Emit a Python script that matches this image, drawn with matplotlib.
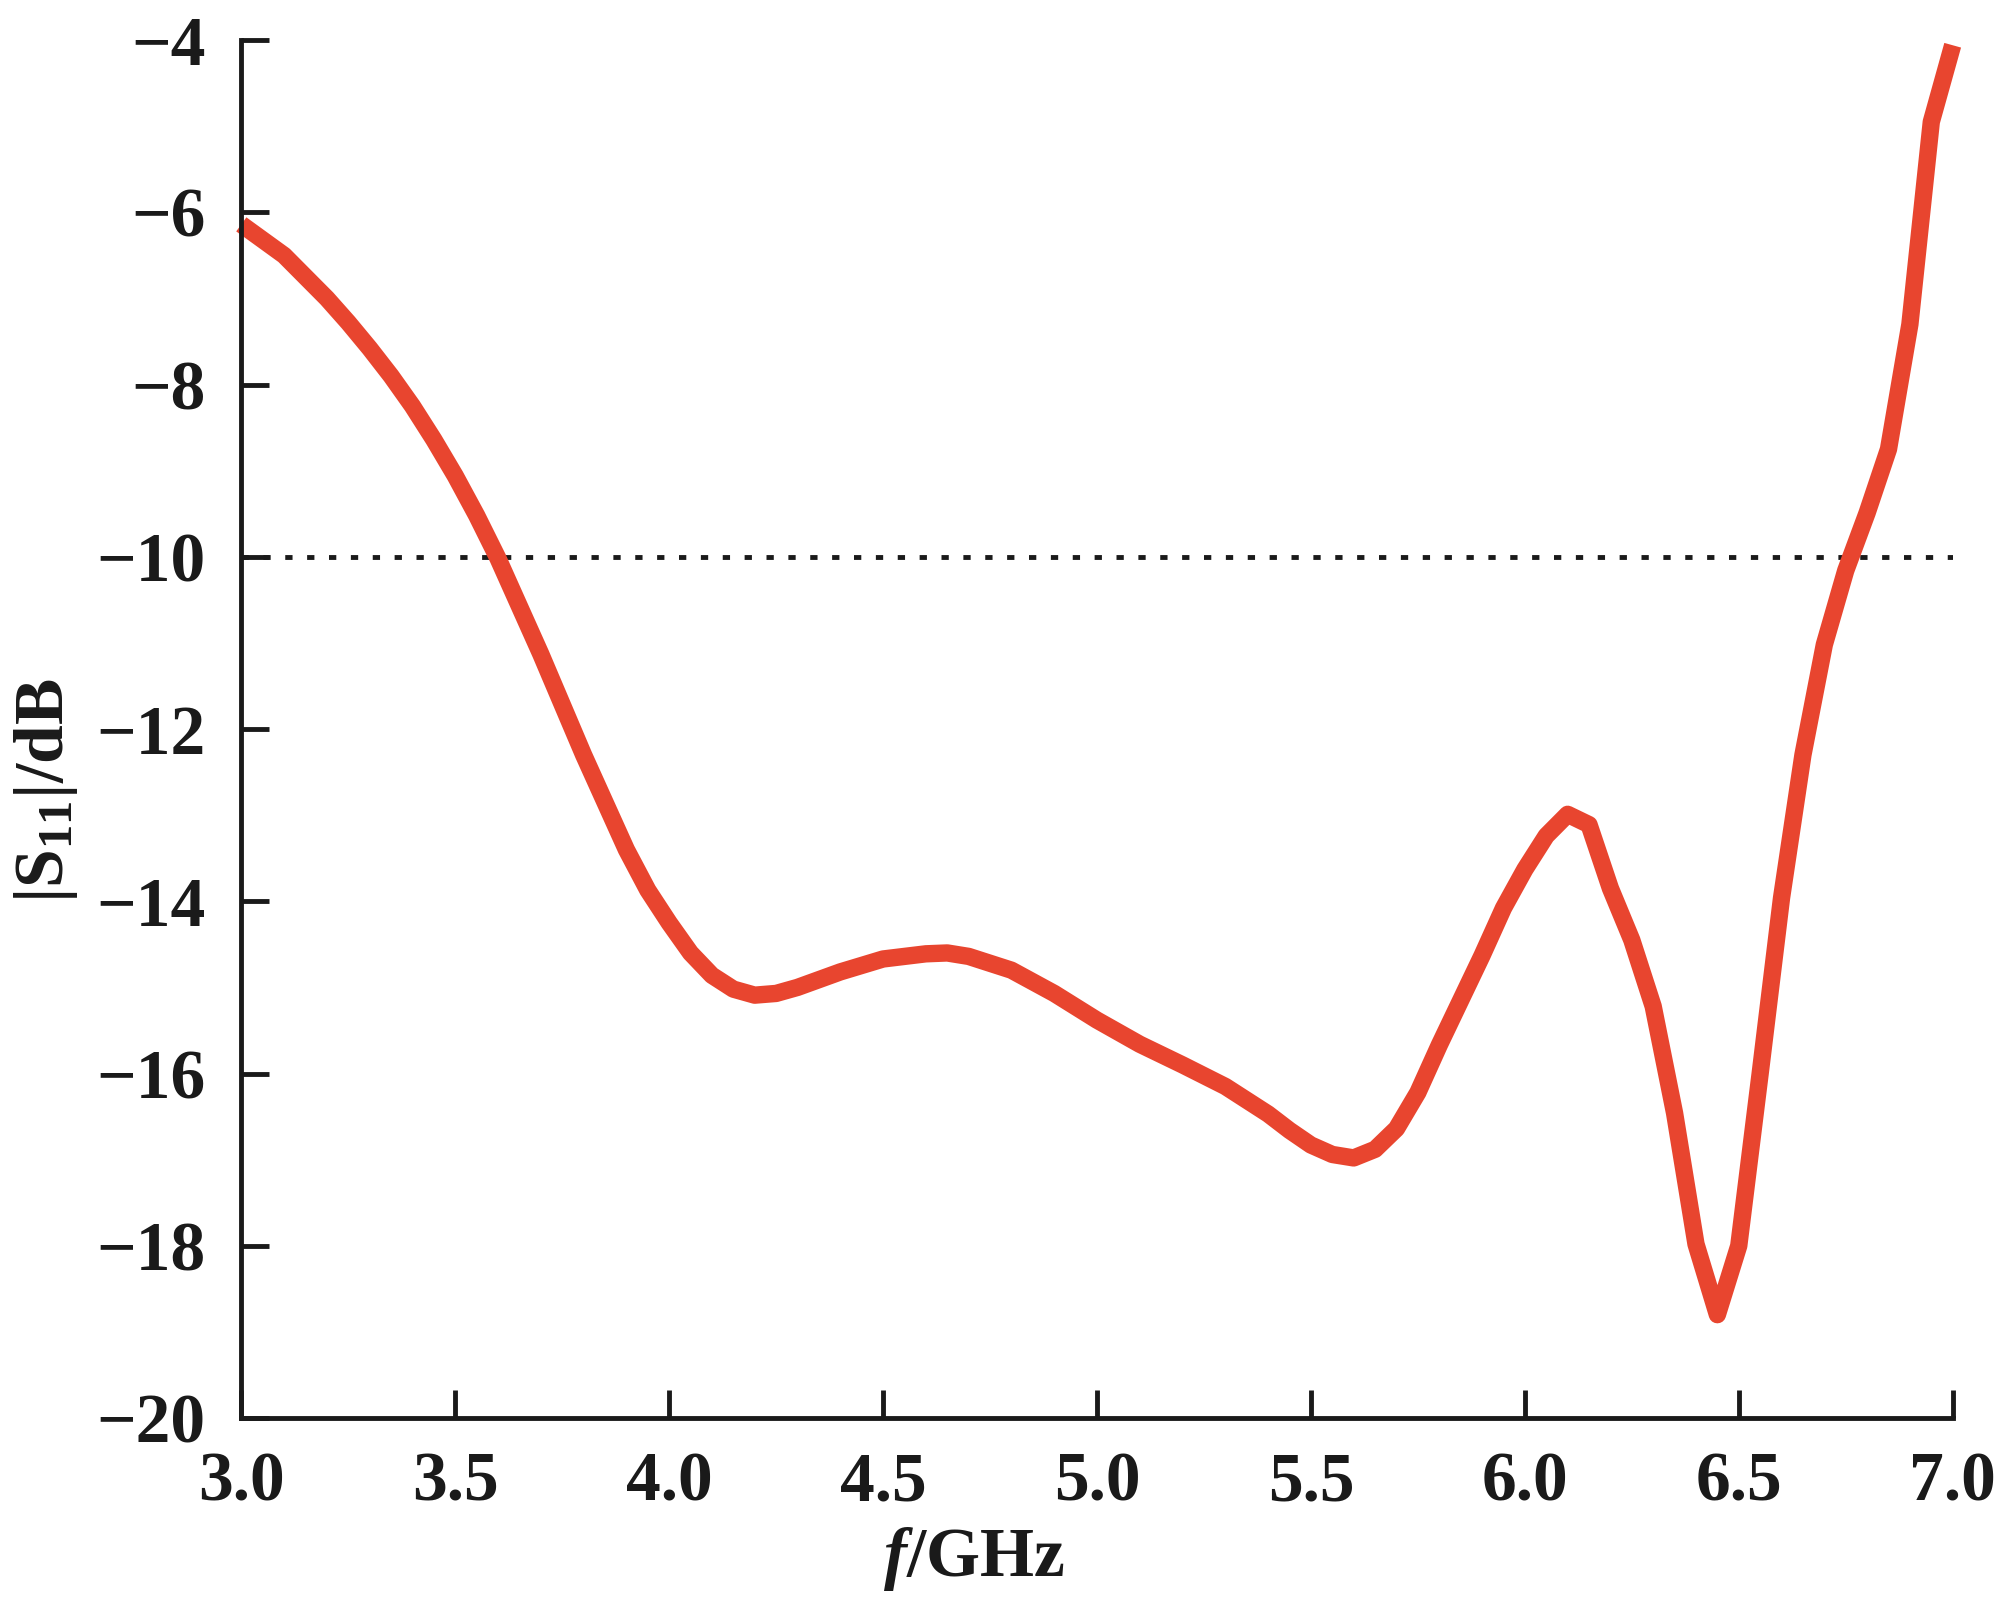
import matplotlib
matplotlib.use("Agg")
import matplotlib.pyplot as plt

plt.rcParams['font.family'] = ['Liberation Serif', 'DejaVu Serif']
plt.rcParams['font.weight'] = 'bold'
plt.rcParams['axes.labelweight'] = 'bold'
plt.rcParams['mathtext.fontset'] = 'custom'
plt.rcParams['mathtext.rm'] = 'Liberation Serif:bold'
plt.rcParams['mathtext.it'] = 'Liberation Serif:italic:bold'
plt.rcParams['mathtext.bf'] = 'Liberation Serif:bold'
plt.rcParams['mathtext.bfit'] = 'Liberation Serif:italic:bold'

freq = [3.0, 3.1, 3.2, 3.25, 3.3, 3.35, 3.4, 3.45, 3.5, 3.55, 3.6, 3.7, 3.8, 3.9,
        3.95, 4.0, 4.05, 4.1, 4.15, 4.2, 4.25, 4.3, 4.4, 4.5, 4.6, 4.65, 4.7,
        4.8, 4.9, 5.0, 5.1, 5.2, 5.3, 5.4, 5.45, 5.5, 5.55, 5.6, 5.65, 5.7,
        5.75, 5.8, 5.9, 5.95, 6.0, 6.05, 6.1, 6.15, 6.2, 6.25, 6.3, 6.35, 6.4,
        6.45, 6.5, 6.55, 6.6, 6.65, 6.7, 6.75, 6.8, 6.85, 6.9, 6.95, 7.0]
s11 = [-6.14, -6.5, -7.0, -7.28, -7.58, -7.9, -8.25, -8.64, -9.06, -9.52,
       -10.02, -11.13, -12.3, -13.4, -13.87, -14.25, -14.6, -14.86, -15.02,
       -15.09, -15.07, -15.0, -14.82, -14.67, -14.61, -14.6, -14.64, -14.8,
       -15.07, -15.38, -15.66, -15.9, -16.15, -16.47, -16.66, -16.83, -16.94,
       -16.98, -16.88, -16.64, -16.22, -15.67, -14.63, -14.08, -13.63, -13.24,
       -12.99, -13.11, -13.85, -14.45, -15.22, -16.46, -17.98, -18.8, -18.0,
       -16.0, -13.96, -12.3, -11.02, -10.16, -9.49, -8.75, -7.3, -4.95, -4.06]
threshold = -10
xticks = [3.0, 3.5, 4.0, 4.5, 5.0, 5.5, 6.0, 6.5, 7.0]
yticks = [-20, -18, -16, -14, -12, -10, -8, -6, -4]

fig = plt.figure(figsize=(20.11, 16.03), dpi=100)
ax = fig.add_axes([0.12, 0.1154, 0.851, 0.8596])

ax.axhline(threshold, color='#1a1a1a', lw=3.5, dashes=(1.5, 3), zorder=1)
ax.plot(freq, s11, color='#E8452F', lw=12.5, solid_joinstyle='round',
        solid_capstyle='butt', zorder=2, clip_on=False)

ax.set_xlim(3.0, 7.0)
ax.set_ylim(-20, -4)
ax.set_xticks(xticks)
ax.set_xticklabels([f"{t:.1f}" for t in xticks])
ax.set_yticks(yticks)
ax.set_yticklabels([f"\u2212{abs(t)}" for t in yticks])

for s in ['top', 'right']:
    ax.spines[s].set_visible(False)
for s in ['left', 'bottom']:
    ax.spines[s].set_linewidth(3.5)
    ax.spines[s].set_color('#1a1a1a')

ax.tick_params(axis='both', direction='in', length=20, width=3.5,
               color='#1a1a1a', labelsize=50, labelcolor='#1a1a1a')
ax.tick_params(axis='y', pad=26)
ax.tick_params(axis='x', pad=24)

ax.set_xlabel(r"$\mathbfit{f}$/GHz", fontsize=50, color='#1a1a1a')
ax.set_ylabel(r"$\mathbf{|S}_{\mathbf{11}}\mathbf{|/dB}$", fontsize=50, color='#1a1a1a')
ax.xaxis.set_label_coords(0.428, -0.078)
ax.yaxis.set_label_coords(-0.094, 0.455)

fig.savefig("out.png", dpi=100, facecolor='white')
